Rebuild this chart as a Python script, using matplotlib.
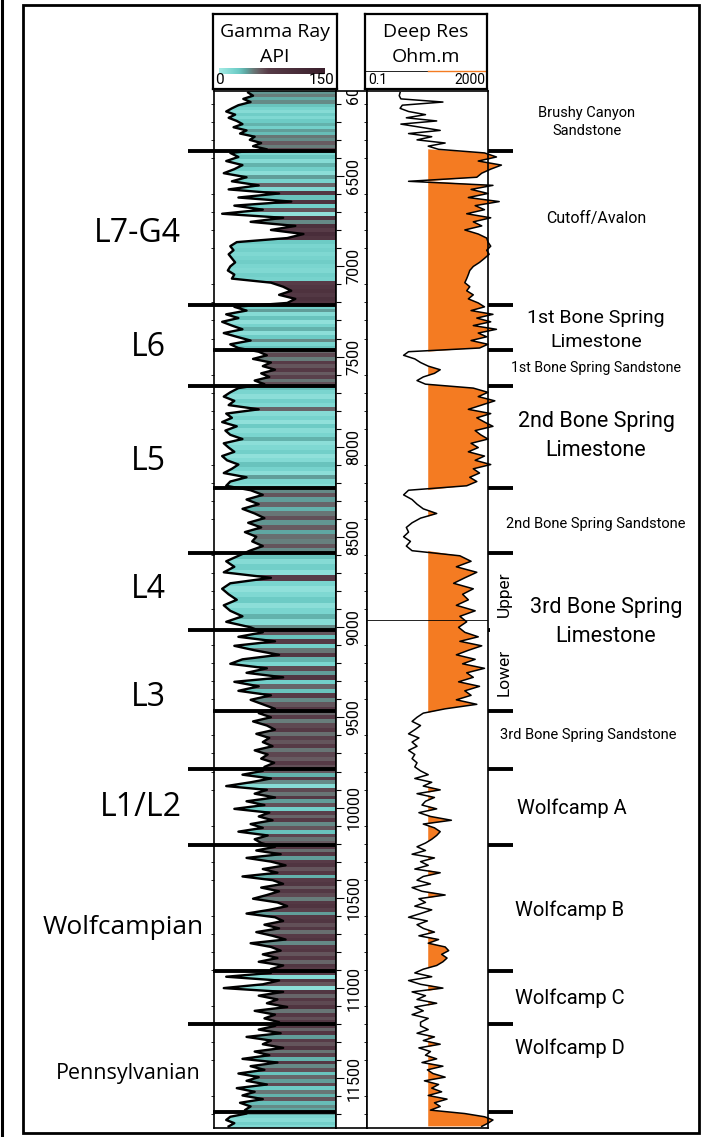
import numpy as np
import matplotlib
matplotlib.use("Agg")
import matplotlib.pyplot as plt
from matplotlib.colors import LinearSegmentedColormap
from matplotlib.patches import Polygon, Rectangle
from matplotlib.ticker import MultipleLocator
from matplotlib.transforms import blended_transform_factory

# zone tops in ft (first = top of log, last = base of log)
tops = [6028, 6360, 7214, 7463, 7663, 8228, 8589, 9016, 9465, 9786, 10207, 10906, 11200, 11687, 11776]

gr_brushy = [42, 48, 36, 45, 30, 22, 15, 26, 18, 28, 35, 24, 40, 32, 50, 44, 58, 48, 65]
gr_avalon = [20, 30, 15, 35, 25, 12, 40, 22, 55, 18, 80, 30, 95, 25, 60, 10, 85, 45, 100, 70,
             110, 90, 28, 20, 24, 18, 22, 26, 20, 17, 25, 22, 70, 85, 95, 80, 100, 90]
gr_bs1_lime = [25, 40, 15, 30, 10, 22, 35, 12, 28, 45, 20, 30]
gr_bs1_sand = [55, 65, 48, 70, 60, 75, 58, 68, 50, 62]
gr_bs2_lime = [30, 20, 12, 25, 18, 55, 15, 22, 10, 28, 14, 20, 35, 12, 18, 25, 10, 16, 30, 22,
               12, 40, 20, 15]
gr_bs2_sand = [45, 60, 40, 55, 35, 50, 62, 42, 58, 38, 52, 47, 60, 44]
gr_bs3_upper = [30, 15, 25, 12, 70, 20, 10, 18, 28, 12, 20, 35, 15, 45]
gr_bs3_lower = [60, 30, 75, 25, 50, 80, 35, 20, 65, 40, 85, 25, 55, 30, 70, 45, 60, 75]
gr_bs3_sand = [55, 70, 48, 65, 75, 52, 68, 60, 72, 50, 66, 58, 74, 62]
gr_wca = [60, 35, 70, 45, 15, 65, 50, 75, 40, 62, 25, 68, 55, 72, 45, 60, 30, 66, 50, 58]
gr_wcb = [75, 52, 82, 40, 70, 88, 60, 78, 35, 72, 85, 58, 80, 65, 48, 78, 90, 68, 40, 75,
          85, 62, 80, 52, 72, 88, 45, 70, 82, 60, 78, 55, 85, 70]
gr_wcc = [70, 15, 80, 60, 12, 85, 55, 78, 65, 90, 50, 75, 62, 80]
gr_wcd = [75, 55, 82, 40, 70, 60, 85, 50, 68, 35, 78, 45, 62, 30, 55, 40, 65, 28, 50, 35,
          60, 32, 45, 38]
gr_base = [40, 20, 15, 25, 18]

# deep resistivity (ohm.m)
res_brushy = [1.5, 1.4, 1.6, 50, 1.8, 1.5, 3, 12, 2.5, 30, 1.6, 8, 40, 3, 20, 6, 60, 15, 35]
res_avalon = [1500, 4000, 900, 6000, 2500, 1200, 800, 3, 3000, 500, 2000, 400, 5000, 700, 1500,
              350, 2500, 600, 1200, 300, 900, 1800, 2000, 2500, 1800, 2200, 1500, 1000, 600, 450,
              400, 350, 300, 450, 350, 600, 400, 900]
res_bs1_lime = [1500, 500, 3000, 800, 2500, 600, 4000, 900, 1800, 500, 2000, 1000]
res_bs1_sand = [3, 2, 5, 8, 15, 40, 25, 10, 6, 12]
res_bs2_lime = [600, 2000, 900, 3500, 1200, 400, 2500, 800, 1500, 3000, 700, 1100, 2000, 500,
                900, 400, 1500, 700, 2500, 600, 1000, 450, 800, 350]
res_bs2_sand = [3, 2, 4, 6, 10, 30, 8, 4, 2.5, 3, 2, 3.5, 2.5, 4]
res_bs3_upper = [200, 500, 150, 800, 300, 120, 600, 250, 400, 150, 700, 200, 350, 180]
res_bs3_lower = [300, 900, 200, 1200, 400, 150, 700, 250, 1500, 350, 600, 180, 1000, 300, 500,
                 150, 800, 60]
res_bs3_sand = [10, 6, 4, 8, 5, 3, 7, 4, 6, 3, 5, 4, 6, 5]
res_wca = [8, 15, 5, 20, 10, 40, 6, 25, 12, 9, 30, 7, 18, 100, 10, 25, 40, 30, 20, 12]
res_wcb = [6, 12, 4, 25, 8, 15, 5, 40, 10, 6, 18, 4, 9, 60, 7, 12, 5, 20, 8, 3, 14, 6, 10, 25,
           7, 35, 15, 60, 80, 45, 70, 50, 30, 10]
res_wcc = [5, 20, 3, 8, 50, 4, 12, 6, 30, 5, 10, 4, 15, 8]
res_wcd = [8, 15, 6, 25, 10, 40, 7, 18, 12, 30, 9, 50, 14, 22, 60, 11, 35, 20, 45, 15, 70, 25,
           40, 18]
res_base = [300, 1500, 3000, 2000, 1200]

gr_zones = [gr_brushy, gr_avalon, gr_bs1_lime, gr_bs1_sand, gr_bs2_lime, gr_bs2_sand,
            gr_bs3_upper, gr_bs3_lower, gr_bs3_sand, gr_wca, gr_wcb, gr_wcc, gr_wcd, gr_base]
res_zones = [res_brushy, res_avalon, res_bs1_lime, res_bs1_sand, res_bs2_lime, res_bs2_sand,
             res_bs3_upper, res_bs3_lower, res_bs3_sand, res_wca, res_wcb, res_wcc, res_wcd, res_base]

depth_ticks = [6000, 6500, 7000, 7500, 8000, 8500, 9000, 9500, 10000, 10500, 11000, 11500]
res_cutoff = 15
upper_lower = 8960

# boundaries drawn long (into the L column) or short (from the GR track)
long_tops = [6360, 7214, 7663, 8589, 9786, 10207, 11200]
short_tops = [7463, 8228, 9465, 10906, 11687]
bs3_top = 9016

left_labels = [("L7-G4", 137, 233, 23), ("L6", 148, 348, 23), ("L5", 148, 462, 23),
               ("L4", 148, 590, 23), ("L3", 148, 698, 23), ("L1/L2", 141, 808, 23),
               ("Wolfcampian", 123, 927, 19), ("Pennsylvanian", 128, 1073, 15.5)]
right_labels = [("Brushy Canyon\nSandstone", 587, 122, 10.5),
                ("Cutoff/Avalon", 596, 219, 11.5),
                ("1st Bone Spring\nLimestone", 596, 330, 14),
                ("1st Bone Spring Sandstone", 596, 368, 10.2),
                ("2nd Bone Spring\nLimestone", 596, 436, 15.5),
                ("2nd Bone Spring Sandstone", 596, 524, 10.5),
                ("3rd Bone Spring\nLimestone", 606, 622, 15.5),
                ("3rd Bone Spring Sandstone", 588, 735, 10.5),
                ("Wolfcamp A", 572, 808, 14.5), ("Wolfcamp B", 570, 910, 14.5),
                ("Wolfcamp C", 570, 998, 14.5), ("Wolfcamp D", 570, 1048, 14.5)]

# ---- build depth arrays
depth, gr, res = [], [], []
for i in range(len(gr_zones)):
    top, base = tops[i], tops[i + 1]
    n = len(gr_zones[i])
    depth.extend(top + (np.arange(n) + 0.5) * (base - top) / n)
    gr.extend(gr_zones[i])
    res.extend(res_zones[i])
depth = np.array(depth)
gr = np.array(gr, dtype=float)
res = np.array(res, dtype=float)

W, H = 702, 1137
fig = plt.figure(figsize=(W / 100, H / 100), dpi=100)
fig.patch.set_facecolor("white")


def box(x0, y0, x1, y1):
    return [x0 / W, 1 - y1 / H, (x1 - x0) / W, (y1 - y0) / H]


cmap = LinearSegmentedColormap.from_list("gr", [
    (0.0, "#a6ece6"), (0.133, "#7ad5cf"), (0.187, "#6ccac4"), (0.253, "#5fa6a1"),
    (0.32, "#687c7a"), (0.387, "#675a60"), (0.467, "#573b47"), (1.0, "#3a1f2c")])
orange = "#f47b22"

ax_gr = fig.add_axes(box(214, 91, 336, 1128))
ax_dp = fig.add_axes(box(336, 91, 367, 1128), sharey=ax_gr)
ax_rs = fig.add_axes(box(367, 91, 488, 1128), sharey=ax_gr)

# gamma ray track: colour fill from curve to 150, coloured by value
edges = np.concatenate([[tops[0]], (depth[:-1] + depth[1:]) / 2, [tops[-1]]])
mesh = ax_gr.pcolormesh(np.array([0, 150]), edges, gr[:, None], cmap=cmap, vmin=0, vmax=150,
                        shading="flat")
verts = np.column_stack([np.r_[gr[0], gr, gr[-1], 150, 150],
                         np.r_[tops[0], depth, tops[-1], tops[-1], tops[0]]])
clip = Polygon(verts, closed=True, transform=ax_gr.transData, facecolor="none", edgecolor="none")
ax_gr.add_patch(clip)
mesh.set_clip_path(clip)
ax_gr.plot(gr, depth, color="black", lw=1.7)
ax_gr.set_xlim(0, 150)
ax_gr.set_xticks([])
ax_gr.tick_params(left=False, labelleft=False)

# resistivity track
ax_rs.set_xscale("log")
mask = (res > res_cutoff) & (depth > tops[1])
ax_rs.fill_betweenx(depth, res_cutoff, res, where=mask, interpolate=True, color=orange, lw=0,
                    clip_on=False)
ax_rs.plot(res, depth, color="black", lw=1.1, clip_on=False)
ax_rs.plot([0.1, 2000], [upper_lower, upper_lower], color="black", lw=0.6)
ax_rs.set_xlim(0.1, 2000)
ax_rs.set_xticks([], minor=False)
ax_rs.set_xticks([], minor=True)
ax_rs.tick_params(left=False, labelleft=False)

# depth track
ax_dp.set_xlim(0, 1)
ax_dp.set_xticks([])
ax_dp.yaxis.set_major_locator(MultipleLocator(500))
ax_dp.yaxis.set_minor_locator(MultipleLocator(100))
ax_dp.tick_params(axis="y", which="both", direction="in", left=True, right=False,
                  labelleft=False, width=0.8)
ax_dp.tick_params(axis="y", which="major", length=6)
ax_dp.tick_params(axis="y", which="minor", length=3.5)
blend_dp = blended_transform_factory(ax_dp.transAxes, ax_dp.transData)
for d in depth_ticks:
    ax_dp.text(0.58, d, str(d), rotation=90, ha="center", va="center", fontsize=11.5,
               family="Roboto", transform=blend_dp, clip_on=True)

for a in (ax_gr, ax_dp, ax_rs):
    for s in a.spines.values():
        s.set_linewidth(1.2)

# formation boundaries
blend = blended_transform_factory(fig.transFigure, ax_gr.transData)
for d in long_tops:
    ax_gr.plot([188 / W, 513 / W], [d, d], transform=blend, color="black", lw=2.8,
               clip_on=False, solid_capstyle="butt", zorder=6)
ax_gr.plot([188 / W, 490 / W], [bs3_top, bs3_top], transform=blend, color="black", lw=2.8,
           clip_on=False, solid_capstyle="butt", zorder=6)
for d in short_tops:
    ax_gr.plot([213 / W, 513 / W], [d, d], transform=blend, color="black", lw=2.8,
               clip_on=False, solid_capstyle="butt", zorder=6)
ax_gr.set_ylim(tops[-1], tops[0])

# headers
hd_gr = fig.add_axes(box(213, 14, 337, 89))
hd_gr.imshow(np.linspace(0, 150, 256)[None, :], extent=[7, 135, 0.2, 0.28], cmap=cmap,
             vmin=0, vmax=150, aspect="auto")
hd_gr.set_xlim(0, 150)
hd_gr.set_ylim(0, 1)
hd_gr.text(75, 0.76, "Gamma Ray", ha="center", va="center", fontsize=14, family="Open Sans")
hd_gr.text(75, 0.43, "API", ha="center", va="center", fontsize=14, family="Open Sans")
hd_gr.text(3, 0.03, "0", ha="left", va="bottom", fontsize=11, family="Roboto")
hd_gr.text(147, 0.03, "150", ha="right", va="bottom", fontsize=11, family="Roboto")

hd_rs = fig.add_axes(box(365, 14, 487, 89))
hd_rs.set_xlim(0, 1)
hd_rs.set_ylim(0, 1)
hd_rs.plot([0, 0.516], [0.24, 0.24], color="black", lw=0.6)
hd_rs.plot([0.516, 1], [0.24, 0.24], color=orange, lw=1.0)
hd_rs.text(0.5, 0.76, "Deep Res", ha="center", va="center", fontsize=14, family="Open Sans")
hd_rs.text(0.5, 0.43, "Ohm.m", ha="center", va="center", fontsize=14, family="Open Sans")
hd_rs.text(0.03, 0.03, "0.1", ha="left", va="bottom", fontsize=10, family="Roboto")
hd_rs.text(0.99, 0.03, "2000", ha="right", va="bottom", fontsize=10, family="Roboto")
for a in (hd_gr, hd_rs):
    a.set_xticks([])
    a.set_yticks([])
    for s in a.spines.values():
        s.set_linewidth(1.6)

# labels
for txt, x, y, fs in left_labels:
    fig.text(x / W, 1 - y / H, txt, ha="center", va="center", fontsize=fs, family="Open Sans")
for txt, x, y, fs in right_labels:
    fig.text(x / W, 1 - y / H, txt, ha="center", va="center", fontsize=fs, family="Roboto",
             linespacing=1.45)
fig.text(504 / W, 1 - 594 / H, "Upper", rotation=90, ha="center", va="center", fontsize=12.5,
         family="Roboto")
fig.text(504 / W, 1 - 672 / H, "Lower", rotation=90, ha="center", va="center", fontsize=12.5,
         family="Roboto")

# outer frame
fig.add_artist(Rectangle((23 / W, 1 - 1133 / H), (699 - 23) / W, (1133 - 5) / H,
                         transform=fig.transFigure, fill=False, lw=2.0, edgecolor="black"))
fig.add_artist(plt.Line2D([1.5 / W, 1.5 / W], [0, 1], transform=fig.transFigure, lw=2.2,
                          color="black"))

fig.savefig("out.png", dpi=100)
